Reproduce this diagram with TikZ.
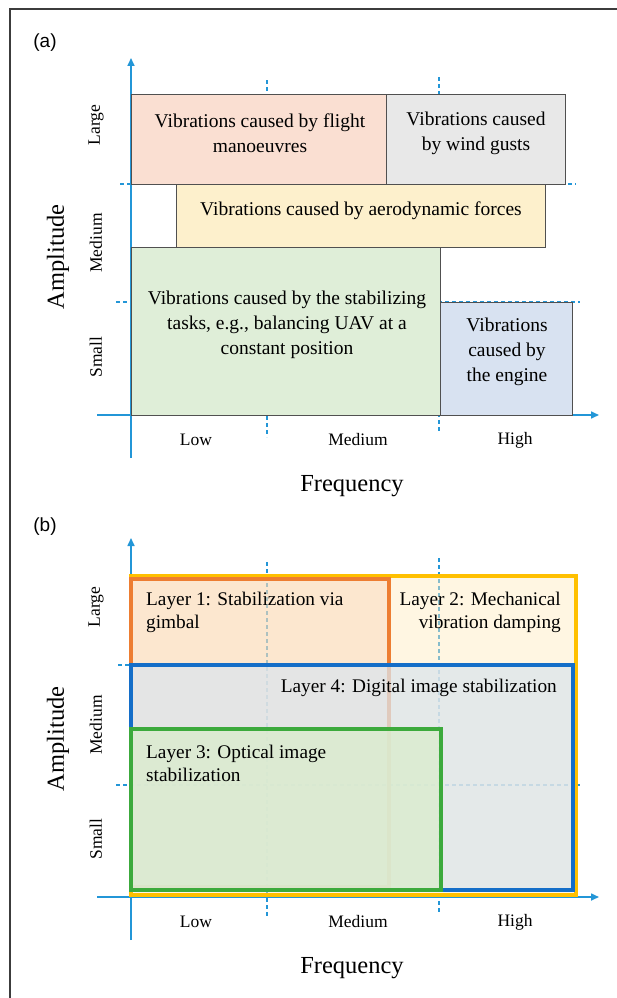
\documentclass[tikz,border=0pt]{standalone}
\usepackage{fontspec}
\setmainfont{Liberation Serif}
\newfontfamily\labfont{Liberation Sans}
\usetikzlibrary{arrows.meta}
\definecolor{axisblue}{RGB}{35,150,215}
\definecolor{framegray}{RGB}{60,60,60}
\definecolor{boxline}{RGB}{80,80,80}
\definecolor{fsalmon}{RGB}{250,223,210}
\definecolor{fgrey}{RGB}{232,232,232}
\definecolor{fyellow}{RGB}{253,240,204}
\definecolor{fgreen}{RGB}{223,238,216}
\definecolor{fblue}{RGB}{216,226,241}
\definecolor{lyellow}{RGB}{255,192,0}
\definecolor{lorange}{RGB}{237,125,49}
\definecolor{lblue}{RGB}{20,110,200}
\definecolor{lgreen}{RGB}{60,170,60}
\definecolor{byellow}{RGB}{255,236,190}
\definecolor{borange}{RGB}{248,203,173}
\definecolor{bblue}{RGB}{220,228,236}
\definecolor{bgreen}{RGB}{218,236,206}
\begin{document}
\begin{tikzpicture}[x=1pt,y=-1pt,
  axis/.style={axisblue, line width=1.6pt},
  axarrow/.style={axis, -{Triangle[length=8pt,width=7pt]}},
  guide/.style={axisblue, line width=1.3pt, dash pattern=on 4pt off 3pt},
  abox/.style={draw=boxline, line width=1pt},
  btxt/.style={font=\rmfamily\fontsize{19.5}{24.7}\selectfont, align=center, inner sep=0pt},
  ltxt/.style={font=\rmfamily\fontsize{19.3}{23}\selectfont, inner sep=0pt},
  cat/.style={font=\rmfamily\fontsize{17.5}{20}\selectfont, inner sep=0pt},
  axtitle/.style={font=\rmfamily\fontsize{24.5}{28}\selectfont, inner sep=0pt},
  paneltag/.style={font=\labfont\fontsize{19}{22}\selectfont, inner sep=0pt}]
\useasboundingbox (0,0) rectangle (616,998);
\draw[line width=2pt, color=framegray] (10,1000) -- (10,9) -- (618,9);

% ---------------- panel (a) ----------------
\node[paneltag] (taga) at (45,43) {(a)};
\coordinate (ay0) at (131,458); \coordinate (ay1) at (131,58);
\coordinate (ax0) at (97,415);  \coordinate (ax1) at (599,415);
\draw[guide] (267,80) -- (267,437);
\draw[guide] (439,77) -- (439,432);
\draw[guide] (120,184) -- (576,184);
\draw[guide] (116,302) -- (580,302);
\draw[axarrow] (ay0) -- (ay1);
\draw[axarrow] (ax0) -- (ax1);

\draw[abox, fill=fsalmon] (131,94) rectangle (386,184);
\draw[abox, fill=fgrey] (386,94) rectangle (565,184);
\draw[abox, fill=fyellow] (176,184) rectangle (545,247);
\draw[abox, fill=fgreen] (131,247) rectangle (440,415);
\draw[abox, fill=fblue] (440,302) rectangle (572,415);

\node[btxt] (flight) at (260,133) {Vibrations caused by flight\\manoeuvres};
\node[btxt] (wind) at (476,133) {Vibrations caused\\by wind gusts};
\node[btxt] (aero) at (361,211) {Vibrations caused by aerodynamic forces};
\node[btxt] (stab) at (287,325) {Vibrations caused by the stabilizing\\tasks, e.g., balancing UAV at a\\constant position};
\node[btxt] (engine) at (507,352) {Vibrations\\caused by\\the engine};

\node[cat, rotate=90] (alarge) at (96,125) {Large};
\node[cat, rotate=90] (amed) at (96,243) {Medium};
\node[cat, rotate=90] (asmall) at (96,357) {Small};
\node[axtitle, rotate=90] (aamp) at (58,257) {Amplitude};
\node[cat] (alow) at (196,440) {Low};
\node[cat] (amedf) at (358,440) {Medium};
\node[cat] (ahigh) at (515,440) {High};
\node[axtitle] (afreq) at (352,486) {Frequency};

% ---------------- panel (b) ----------------
\node[paneltag] (tagb) at (45,527) {(b)};
\coordinate (by0) at (131,940); \coordinate (by1) at (131,538);
\coordinate (bx0) at (97,897);  \coordinate (bx1) at (599,897);
\draw[axarrow] (by0) -- (by1);
\draw[axarrow] (bx0) -- (bx1);
\draw[guide] (267,562) -- (267,917);
\draw[guide] (439,558) -- (439,913);
\draw[guide] (118,665) -- (131,665);
\draw[guide] (116,785) -- (580,785);

\draw[draw=lyellow, line width=4.5pt, fill=byellow, fill opacity=0.45] (131,576) rectangle (576,895);
\draw[draw=lorange, line width=3.5pt, fill=borange, fill opacity=0.35] (131,579) rectangle (389,887);
\draw[draw=lblue, line width=3.5pt, fill=bblue, fill opacity=0.75] (131,665) rectangle (573,890);
\draw[draw=lgreen, line width=3.5pt, fill=bgreen, fill opacity=0.8] (131,729) rectangle (441,890);

\node[ltxt, align=left, anchor=west] (l1) at (146,612) {Layer 1: Stabilization via\\gimbal};
\node[ltxt, align=right, anchor=east] (l2) at (561,612) {Layer 2: Mechanical\\vibration damping};
\node[ltxt, anchor=east] (l4) at (557,688) {Layer 4: Digital image stabilization};
\node[ltxt, align=left, anchor=west] (l3) at (146,763) {Layer 3: Optical image\\stabilization};

\node[cat, rotate=90] (blarge) at (96,607) {Large};
\node[cat, rotate=90] (bmed) at (96,725) {Medium};
\node[cat, rotate=90] (bsmall) at (96,839) {Small};
\node[axtitle, rotate=90] (bamp) at (58,739) {Amplitude};
\node[cat] (blow) at (196,922) {Low};
\node[cat] (bmedf) at (358,922) {Medium};
\node[cat] (bhigh) at (515,922) {High};
\node[axtitle] (bfreq) at (352,968) {Frequency};
\end{tikzpicture}
\end{document}
